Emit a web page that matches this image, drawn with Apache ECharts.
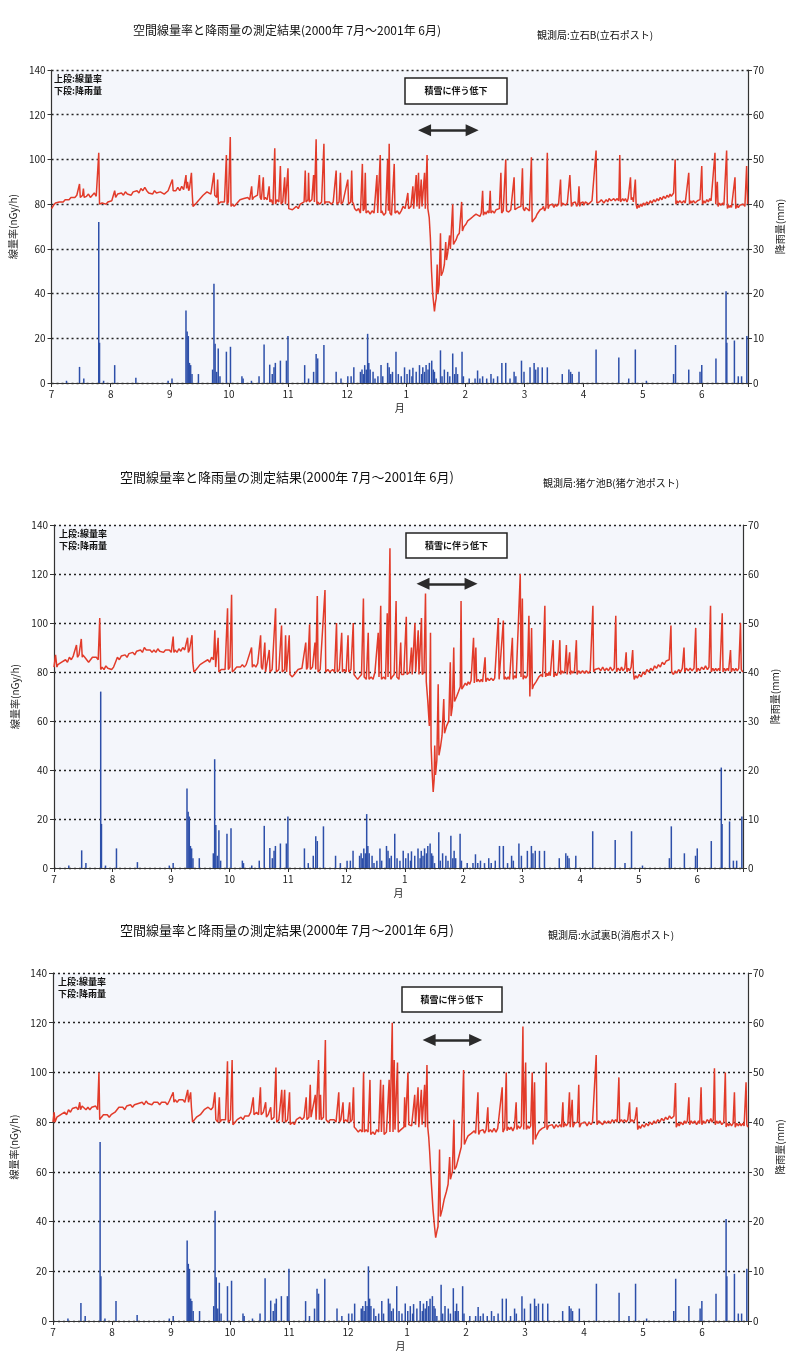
<!DOCTYPE html>
<html><head><meta charset="utf-8">
<script src="https://cdn.jsdelivr.net/npm/echarts@6/dist/echarts.min.js"></script>
<style>html,body{margin:0;padding:0;background:#fff}#c{width:800px;height:1369px}</style>
</head><body><div id="c"></div>
<script>
// x values are days from 1 July 2000 (one month = 30.43 units on the equally spaced month axis)
const MONTH = 30.43;
const X_MAX = 358.5;
const monthLabels = ['7','8','9','10','11','12','1','2','3','4','5','6'];
const chartTitle = '空間線量率と降雨量の測定結果(2000年 7月～2001年 6月)';
const stationNames = ['観測局:立石B(立石ポスト)', '観測局:猪ケ池B(猪ケ池ポスト)', '観測局:水試裏B(消庖ポスト)'];
const legendNote = '上段:線量率\n下段:降雨量';
const snowNote = '積雪に伴う低下';
const leftAxisName = '線量率(nGy/h)';
const rightAxisName = '降雨量(mm)';
const xAxisName = '月';
// snow-cover arrow: [startDay, endDay, level (nGy/h)] for each panel
const snowArrow = [[192, 216.5, 113], [192, 217, 116], [194, 218, 113]];

// rainfall (mm), [day, mm] — same gauge shown in all three panels
const rainfall = [
[7.7,0.5],[14.4,3.6],[16.6,1],[24.3,36],[24.7,9],[26.8,0.5],[32.5,4],[43.4,1.2],[60,0.5],[62,1],
[69.2,16.2],[69.8,11.5],[70.4,10.5],[71,4.5],[71.6,4],[72.3,2],[75.6,2],[82.9,3],[83.6,22.2],[84.2,8.8],
[85,2.5],[85.8,7.7],[86.7,1.5],[90,7],[92.1,8.1],[98,1.5],[98.6,1],[102.9,0.5],[106.8,1.5],[109.4,8.6],
[112.3,4.1],[113.6,2],[114.5,3.5],[115.2,4.5],[117.8,5],[120.9,5],[121.7,10.5],[130.3,4],[132.3,1],[134.9,2.5],
[136.2,6.5],[137,5.5],[140.2,8.5],[146.5,2.5],[149,1],[152.5,1.5],[154.2,1.5],[155.6,3.5],[159,2.5],[159.8,3],
[160.5,2],[161.2,4],[162,3],[162.7,11],[163.3,4.5],[164,3],[165.5,2.5],[166.5,1],[168,1.5],[169.6,4],
[170.5,1.5],[173,4.5],[173.8,3.5],[174.6,2],[175.5,2.5],[177.3,7],[178.5,2],[180,1.5],[181.7,3.5],[183,2],
[184.3,3],[185.5,1.5],[186,3.4],[187.7,2.5],[189.4,4],[190.5,2],[191.1,3.5],[192,2.5],[192.8,4],[193.8,3],
[194.5,4.5],[195.7,5],[196.5,3],[197.1,2.5],[198,1],[200.2,7.3],[201,1.5],[202.2,3],[203.9,2.5],[205,1.5],
[206.5,6.6],[207.5,2],[208.2,3.5],[209,2],[211.3,7],[212,1.5],[215,1],[218,1],[219.3,2.8],[220.5,1],
[221.9,1.5],[224,1],[226.2,2],[227.5,1],[229.6,1.5],[231.8,4.5],[233.8,4.5],[236,1],[238.1,2.5],[239,1.5],
[241.9,5],[243.2,2.5],[246.3,3.5],[248.4,4.5],[249.2,3],[250.4,3.5],[252.6,3.5],[255.2,3.5],[262.9,2],[266.3,3],
[267.2,2.5],[268,2],[271.5,2.5],[280.3,7.5],[292,5.7],[297.1,1],[300.5,7.5],[306.2,0.5],[320.2,2],[321.2,8.5],
[328,3],[333.8,2.5],[334.7,4],[342,5.5],[347.2,20.5],[347.6,9],[351.5,9.5],[353.5,1.5],[355.2,1.5],[357.9,10.5]
];

// air dose rate (nGy/h), [day, value]
const doseTateishi = [
[0,78],[1,79.5],[2,80.5],[3,80],[4,81],[5,81.5],[6,81],[7,82],[8,82.5],[9,82],[10,83],[11,83.5],[12,83],[13,84],[14,83.5],[14.4,89],[14.8,83],
[16,84],[16.4,87],[16.8,83],[18,83.5],[19,84.5],[20,83],[21,84],[22,85],[23,83.5],[24,84],[24.3,103],[24.7,80],[26,80.5],[27,81],[28,80],
[29,81],[30,80.5],[31,81.5],[32,82],[32.5,86],[33,83],[34,84.5],[35,84],[36,85],[37,84],[38,85.5],[39,84.5],[40,85],[41,84],[42,85.5],
[43,85],[44,86],[45,85],[46,87],[47,86],[48,87.5],[49,86],[50,85],[51,85.5],[52,84.5],[53,86],[54,85],[55,84.5],[56,85.5],[57,85],
[58,84.5],[59,85],[60,86],[61,85.5],[62.2,91],[62.6,86],[63,86.5],[64,86],[65,87.5],[66,86],[67,88],[68,86.5],[69.2,93],[69.5,87],
[70,90],[70.6,86],[71,87],[72,94],[72.4,85],[72.8,79],[74,80],[75,81],[76,82],[77,83],[78,84],[79,84.5],[80,85.5],[81,85],[82,84.5],
[83,85],[83.6,94],[84,84],[85,83],[85.5,91],[85.9,80],[87,81],[88,80.5],[89,81],[90,102],[90.4,80],[91,81],[92,110],[92.4,79],[93,80],
[94,79],[95,80],[96,81],[97,82],[98,81.5],[99,82.5],[100,82],[101,83],[102,82],[103,88],[103.4,82],[104,83],[105,82.5],[106,84],
[107,93],[107.4,83],[108,82],[109,92],[109.4,82],[110,83],[111,82],[112,88],[112.4,81],[113,82],[114,80],[114.9,105],[115.3,80],
[116,82],[117,81],[117.8,97],[118.2,80],[119,81],[120,92],[120.4,80],[121,80.5],[121.7,96],[122.1,78],[123,78.5],[124,77.5],[125,78],
[126,79],[127,78],[128,80],[129,80.5],[130,81],[130.6,95],[131,81],[132,82],[132.3,94],[132.7,81],[134,82],[134.9,93],[135.3,81],
[136.2,109],[136.6,80],[137,81],[138,80],[139,81],[140.2,107],[140.6,80],[141,81],[142,80.5],[143,81],[144,80],[145,81],[146.5,95],
[146.9,80],[148,81],[148.7,94],[149.1,80],[150,81],[151,80.5],[152.5,91],[152.9,80],[154,81],[154.5,95],[154.9,81],[155.5,80],[156,78],
[157,77],[158,78],[159,76],[160,98],[160.4,77],[161,78],[161.5,94],[161.9,76],[163,77],[164,75.5],[165,77],[166,76],[167.5,93],
[167.9,76],[169.2,102],[169.6,76],[170,77],[171,75],[172,76],[173,100],[173.4,77],[173.8,107],[174.2,76],[175,75],[176.4,98],[176.8,76],
[178,77],[179,75.5],[180,77],[181,79],[182,78],[183.4,85],[183.8,78],[185,79],[186,88],[186.4,78],[187.7,93],[188.1,79],[188.9,94],
[189.3,78],[190.3,91],[190.7,79],[192,94],[192.4,78],[193.3,102],[193.7,78],[194.4,74],[195,65],[195.6,50],[196.2,40],[197.1,32],
[197.6,36],[198,38],[198.5,53],[198.9,40],[199.5,44],[200.2,67],[200.6,48],[201.5,50],[202.2,53],[202.9,63],[203.3,55],[203.9,58],
[204.9,66],[205.3,60],[206.5,80],[206.9,62],[207.5,63],[208.2,64],[209,66],[209.9,67],[211.1,81],[211.5,68],[212.3,70],[213.3,71],
[214.2,72.5],[215,72],[215.7,73.5],[216.3,73],[217,74.5],[217.6,74],[218.5,75.5],[219.3,75],[220.5,74.5],[221.2,76],[221.9,86],[222.3,75],
[223,76.5],[223.6,75.5],[224.5,77],[225.2,76],[225.8,86],[226.2,76],[227,77],[227.9,76],[228.8,77.5],[229.6,77],[230.5,78],
[231.3,94],[231.7,76],[232.5,77],[233.8,100],[234.2,77],[235.3,76.5],[236.4,77.5],[237.3,77],[238.1,92],[238.5,77.5],[239.5,77],
[240.1,78.5],[240.7,78],[241.6,79],[242.4,96],[242.8,78],[243.5,77],[244,78.5],[245,78],[246,77],[247,101],[247.4,72],[248.2,73],
[249.2,74],[249.9,75.5],[250.5,76],[251.5,77.5],[252.6,78],[253.2,79],[253.8,77],[254.5,78.5],[255.2,103],[255.6,78],[256.3,79.5],
[257,79],[257.8,80],[258.6,78.5],[259.3,80],[260,79],[261,80],[262,91],[262.4,79],[263,80.5],[263.5,80],[264.6,79.5],[265.5,80.5],
[266.8,93],[267.2,86],[267.6,79],[268.3,80.5],[269,80],[269.6,81],[270.3,79],[271,80.5],[271.5,88],[271.9,79],[272.5,80.5],[273,80],
[273.6,81],[274,79.5],[274.8,81],[275.5,81],[276.4,80],[277.4,80.5],[278.2,81.5],[279,81],[280.3,104],[280.7,80.5],
[282,81],[283,82],[284.3,80.5],[285.5,82],[286.3,81],[287,82.5],[288,81.5],[289.4,82.5],[290.2,81.5],[291,82.5],[292,81.5],[292.5,102],
[292.9,81],[294,82.5],[294.7,81.5],[295.4,82.5],[296.2,81],[296.8,82.5],[298,92],[298.4,82],[299,83],[299.5,81],[300.5,91],[300.9,80],
[301.4,78],[302,79.5],[302.5,78.5],[303.2,80],[303.9,79],[304.7,80.5],[305.5,79.5],[306.4,81],[307.4,80],[308.2,81.5],[309,80.5],
[310,82],[310.8,81],[311.7,82.5],[312.5,81.5],[313.3,83],[314.2,82],[315,83.5],[316,82.5],[316.8,84],[317.6,83],[318.4,84.5],[319,83.5],
[320.2,85],[321,100],[321.4,80],[322,81.5],[322.5,80.5],[323.4,81.5],[324.4,80.5],[325.5,81.5],[326.2,80.5],[327,81],[328,94],
[328.4,80],[329,81.5],[329.5,80.5],[330.4,81.5],[331.3,80.5],[332.5,81.5],[333.2,81],[333.8,82],[334.7,97],[335.1,80],[335.8,81.5],[336.5,80.5],
[337.3,82],[338.1,81],[338.8,82.5],[339.5,81.5],[340.5,82],[341.5,103],[341.9,80],[342.7,90],[343.1,79],[343.8,80.5],[344.5,79.5],[345.5,80.5],
[346.1,79.5],[346.7,80],[347.5,104],[347.9,78],[348.5,79.5],[349,78.5],[349.6,79.5],[350,78.5],[351,79],[351.8,92],
[352.2,78],[352.8,79.5],[353.5,78.5],[354.3,79.5],[355.2,79],[356,80],[356.9,79],[357.8,97],[358.3,80]
];

const doseInokeike = [
[0,82],[0.8,87],[1.5,82],[2,83],[3,82.5],[4,84],[5,83.5],[6,85],[7,84],[8,86],[9,85],[10,86.5],[11,86],[11.7,91],[12.2,86],[13,87],
[14.2,93.5],[14.7,86],[15,87],[16,86],[17,85],[18,84],[19,85],[20,86],[21,85.5],[22,86],[23,85],[23.8,102],[24.3,81],[25,82],[26,81],
[27,82.5],[28,81.5],[29,82],[30,81],[31,82],[32,84],[33,86],[34,85],[35,86.5],[36,86],[37,87],[38,86],[39,87.5],[40,87],[41,88],
[42,87],[43,88.5],[44,88],[45,89],[46,88],[47,90],[48,89],[49,88.5],[50,89],[51,88],[52,89],[53,88],[54,89.5],[55,88.5],[56,89],
[57,88],[58,89],[59,88.5],[60,89],[61,88],[62,94.5],[62.4,88],[63,89],[64,88],[65,89.5],[66,88.5],[67,90],[68,89],[69.5,94],[69.9,88],
[70.5,89],[71.8,95],[72.2,84],[72.8,80],[74,81],[75,82],[76,83],[77,82.5],[78,84],[79,84.5],[80,85],[81,84],[82,86],[83,85],[83.7,97],
[84.1,82],[85.4,94],[85.8,80],[87,81],[88,80.5],[89,81],[90.3,106],[90.7,81],[91.5,82],[92.4,111.5],[92.8,80],[94,81],[95,82],[96,81.5],
[97,82],[98,83],[99,82],[100,83],[101,82.5],[102.8,90],[103.2,82],[104,83],[105,82],[106,83.5],[107.5,95],[107.9,82],[108.5,81],
[109.7,92],[110.1,80],[111,80.5],[112,89],[112.4,80],[113.5,81],[115.3,106],[115.7,80],[117,81],[118.4,99],[118.8,80],[120,81],
[120.5,95],[121,80],[122.4,95],[122.8,79],[124,78],[125,79],[126,80],[127,81],[128,80.5],[129,81.5],[130,82],[131,92],[131.4,81],
[132,82],[133,99.5],[133.4,81],[134.5,82],[135.8,92],[136.2,81],[137,111],[137.4,80],[138.5,81],[139.5,80.5],[141,113.5],[141.4,80],
[142.5,81],[143.5,80],[145,81],[146,80],[147,100],[147.4,80],[148.5,81],[149.7,96],[150.1,80],[151,81],[152,80],[153,95],[153.4,80],
[154.5,81],[155.7,100],[156.1,79],[157,78],[158,77],[159,78],[160,79],[161,110],[161.4,78],[162.5,77],[163.5,96],[163.9,77],[165,78],
[166,77],[167,80],[168.7,96],[169.1,78],[170,107],[170.4,77],[171.5,78],[172.5,77],[173.4,104],[173.8,78],[174.8,130.5],[175.2,77],
[176,78],[177,79],[178,109],[178.4,78],[179.5,77],[180.4,92],[180.8,79],[182,79],[183.3,102.5],[183.7,79],[185,80],[186,90],[186.4,79],
[187.8,100],[188.2,80],[189.5,97],[189.9,79],[191.2,102],[191.6,79],[192.5,80],[193.3,112],[193.7,76],[194.5,68],[195.3,58],[195.9,96],
[196.2,50],[196.7,40],[197.3,31],[197.8,36],[198.1,50],[198.5,38],[199.2,44],[199.9,75],[200.3,46],[201.2,50],[201.9,54],[202.8,69],
[203.2,55],[204.3,58],[205.4,60],[206.2,84],[206.6,62],[207.3,66],[208,90],[208.4,68],[209.5,70],[210.5,72],[211.4,74],[211.8,109],
[212.2,73],[213,74],[214,75.5],[214.8,74.5],[215.5,76],[216.3,75],[217,76.5],[218.3,94],[218.7,75.5],[219.5,90],[219.9,76],[220.7,77],
[221.5,76],[222.3,77],[223,76],[224.3,86],[224.7,76],[225.6,77.5],[226.5,76.5],[227.5,77.5],[228.5,76.5],[229.3,77.5],[230,77],
[231.2,102],[231.6,77],[232.5,76.5],[233.8,101],[234.2,77],[234.8,78],[235.5,77],[236.3,78],[237,77],[238.5,94],[238.9,77],[239.7,78.5],
[240.5,77.5],[241.5,78],[242.6,120],[243,78],[243.7,110],[244.1,77],[244.8,78.5],[245.5,77.5],[246.3,78.5],[247.1,103],[247.6,70],[248.5,98],
[248.9,73],[249.5,74.5],[250,74],[250.8,76],[251.5,76.5],[252.3,78],[253,77.5],[253.6,79],[254.2,78],[255.4,107],[255.8,78],[256.4,79.5],
[257,78.5],[257.6,80],[258.2,78.5],[259.7,93],[260.1,78],[260.8,79.5],[261.5,78.5],[262.3,80],[263.2,93],[263.6,79],[264.3,80.5],[265,79.5],
[265.8,80.5],[266.6,91],[267,79],[268.3,88],[268.7,79],[269.3,80.5],[270,79.5],[270.8,80.5],[271.8,93],[272.2,79],[273,80.5],[274,79.5],
[275,80.5],[276,79.5],[277,80.5],[278,79.5],[279,80.5],[280.4,107],[280.8,80],
[281.5,81],[282.5,80.5],[283.5,81.5],[284.5,80.5],[285.5,82],[286.5,80.5],[287.5,81.5],[288.5,80.5],[289.5,82],[290.5,80.5],[291.5,81.5],
[292.3,103],[292.7,80],[293.5,81.5],[294.5,80.5],[295.3,82],[296,80.5],[297,81.5],[297.7,88],[298.1,80],[298.8,81.5],[299.5,80.5],
[300.3,82],[301.1,89],[301.5,80],[301.9,77],[302.7,78.5],[303.5,77.5],[304.5,79],[305.5,78],[306.5,80],[307.5,79],[308.5,81],[309.5,80],
[310.5,81.5],[311.5,80.5],[312.5,82.5],[313.5,81.5],[314.5,83],[315.5,82],[316.5,84],[317.5,83],[318.5,84.5],[319.3,84],[320.1,85],
[321,99],[321.4,80],[322.3,79],[323.2,80.5],[324,79.5],[325,81],[326,80],[326.9,81.5],[327.8,90],[328.2,80],[329,81.5],[330,80.5],
[331,81.5],[332,80.5],[333,81.5],[333.9,98],[334.3,80],[335.2,81.5],[336,80.5],[337,82],[338,81],[339,82.5],[340,81],[340.8,82],
[341.6,107],[342,80],[342.8,81.5],[343.5,80.5],[344.3,81.5],[345,80.5],[345.8,81.5],[346.5,80.5],[347.7,104],[348.1,80],[348.8,81.5],
[349.5,80.5],[350.3,81.5],[351,80.5],[352,89],[352.4,80],[353.2,81.5],[354,80.5],[354.8,81.5],[355.5,80.5],[356.3,81.5],[357.2,100],
[357.6,81],[358.4,80]
];

const doseMizushi = [
[0,80],[0.6,84],[1,80],[2,82],[3,81.5],[4,83],[5,82.5],[6,84],[7,83],[8,85],[9,84],[10,85.5],[11,85],[12,86],[13,85],[13.8,88],
[14.2,85],[15,86.5],[16,86],[17,85],[18,86],[19,85],[20,86],[21,85.5],[22,86.5],[23,85],[23.7,100],[24.1,81],[25,82],[26,83],
[27,82.5],[28,83],[29,82],[30,83],[31,82.5],[32,84],[33,85],[34,86],[35,85.5],[36,86],[37,85],[38,86.5],[39,86],[40,87],[41,86],
[42,87],[43,86.5],[44,87.5],[45,87],[46,88],[47,87],[48,88.5],[49,87.5],[50,88],[51,87],[52,88],[53,87.5],[54,88],[55,87],[56,88],
[57,87.5],[58,88],[59,87],[60,88.5],[61,88],[62,92],[62.4,88],[63,89],[64,88],[65,89],[66,88.5],[67,89],[68,88],[69.5,93],[69.9,88],
[71,92],[71.4,86],[72,80],[73,81],[74,82],[75,81.5],[76,83],[77,84],[78,85],[79,85.5],[80,86],[80.8,86.5],[81.5,85],[82.5,86],
[83.5,92],[84,81],[85,80],[85.8,90],[86.2,80],[87,81],[88,80.5],[89,81],[90,104.5],[90.4,80],[91.5,81],[92.4,105],[92.8,79],[94,80],
[95,81],[96,80.5],[97,82],[98,81],[99,82.5],[100,83],[101,82.5],[102,84],[103.3,90],[103.7,83],[105,84],[106,83],[107,94],[107.4,83],
[108.5,84],[109.7,88],[110.1,82],[111,83],[112.3,86],[112.7,81],[114,82],[115,102],[115.4,80],[116.5,81],[118,93],[118.4,80],
[119.5,93],[119.9,80],[121,81],[122,92],[122.4,79],[123.5,80],[124.5,79],[125.5,81],[126.5,80.5],[127.5,82],[128.5,81],[129.5,82],
[130.6,90],[131,81],[132,82],[132.7,95],[133.1,82],[134,81.5],[135.3,91],[135.7,81],[137,105],[137.4,81],[138,91],[138.4,81],
[139.5,82],[140.5,113],[140.9,81],[142,80],[143,81],[144,80.5],[145,81],[146,80],[147.4,92],[147.8,80],[148.5,81],[149.6,88],
[150,80],[151,81],[152,80],[153,88],[153.4,80],[154.3,81],[155,94],[155.4,78],[156.5,77],[157.5,76],[158.5,77],[159.5,76],[160.2,100],
[160.6,76],[161.5,77],[162.5,76],[163.5,97],[163.9,75],[165,76],[166,75],[167,77],[168,76],[169,97],[169.4,76],[170.4,95],[170.8,75],
[172,76],[173.4,97],[173.8,76],[175,120],[175.4,76],[176,105],[176.4,77],[177.7,104],[178.1,76],[179.5,77],[181,78],[181.4,90],
[181.8,78],[183.1,100],[183.5,79],[185,78.5],[186.6,91],[187,79],[188.3,94],[188.7,78],[190,93],[190.4,79],[191.7,95],[192.1,78],
[192.9,103],[193.3,78],[193.8,74],[194.3,68],[195.2,55],[196,45],[196.8,38],[197.4,33.5],[198,36],[198.6,38],[199.4,69],[199.8,42],
[200.8,45],[201.8,49],[202.9,52],[203.8,55],[204.6,66],[205,57],[206,60],[206.8,81],[207.2,61],[208,62],[209.3,66],[210.6,70],
[211.8,101],[212.2,71],[213.2,73],[214.1,74.5],[215,74],[215.8,75.5],[216.6,75],[217.3,76.5],[218,75.5],[219.2,92],[219.6,75],[220.3,76.5],
[221,76],[221.8,77],[222.6,75.5],[223.4,77],[224.3,86],[224.7,76],[225.6,77],[226.5,76],[227.5,77.5],[228.5,76],[229.4,77.5],[230.3,77],
[231.7,94],[232.1,76],[233,77.5],[233.8,100],[234.2,76.5],[234.9,78],[235.5,77],[236.3,78],[237.2,76.5],[238,78],[238.9,88],[239.3,77],
[240,78.5],[240.8,77.5],[241.6,78.5],[242.4,118.5],[242.8,77],[243.8,104],[244.2,77],[244.9,78.5],[245.6,77.5],[246.4,78.5],[247.2,100],
[247.6,71],[248.4,96],[248.8,73],[249.4,74.5],[250,75],[250.8,76.5],[251.5,76],[252.3,77.5],[253,77],[253.7,78],[254.4,104],[254.8,77],
[255.6,78.5],[256.5,78],[257.5,79],[258.5,77.5],[259.5,79],[260.5,78],[261.5,79],[262.3,78],[263,88],[263.4,78],[264,79.5],[264.8,78.5],
[265.6,79.5],[266.4,92],[266.8,78],[267.8,89],[268.2,78],[269,79.5],[269.8,79],[270.5,80],[271.2,95],[271.6,78],[272.5,79.5],[273.5,79],
[274.5,80],[275.5,78.5],[276.5,80],[277.5,79],[278.3,80],[279,79.5],[280.2,107],[280.6,79],[281.5,80.5],
[282.5,80],[283.5,79],[284.5,80.5],[285.5,79.5],[286.5,80.5],[287.5,79.5],[288.5,81],[289.3,80],[290.2,81],[291,80],[291.9,98],[292.3,80],
[293.2,81],[294,80],[294.8,81],[295.7,80],[296.5,81],[297.4,88],[297.8,80],[298.6,81],[299.5,80],[300.3,81.5],[301.1,86],[301.6,77],
[302.3,78.5],[303,77.5],[304,79],[305,78],[306,79.5],[307,78.5],[308,80],[309,79],[310,80.5],[311,79.5],[312,81],[313,80],[314,81.5],
[315,80.5],[316,82],[317,81],[318,82.5],[319,81.5],[320.3,82.5],[321.1,95.7],[321.5,78],[322.3,79.5],[323,78.5],[323.8,80],[325,79],
[325.8,80.5],[326.5,79.5],[327.2,80.5],[328,90],[328.4,79],[329.2,80.5],[330,79.5],[331,80.5],[332,79],[333,80.5],[333.6,79.5],[334.3,94],
[334.7,79],[335.5,80.5],[336.5,79.5],[337.5,81],[338.5,80],[339.3,81.5],[340,80],[340.6,81],[341.2,101.7],[341.6,79],[342.3,80.5],
[343,79.5],[344,80.5],[345,79],[346,80],[346.8,100],[347.2,78],[347.8,79.5],[348.5,78.5],[349.2,79.5],[350,78.5],[350.8,79.5],
[351.5,92],[351.9,78],[352.7,79.5],[353.5,78.5],[354.3,79.5],[355,78.5],[355.8,79.5],[356.5,78.5],[357.5,96],[357.9,79],[358.4,78]
];

const doseSeries = [doseTateishi, doseInokeike, doseMizushi];

const panels = [
  {top: 70, height: 313, left: 49, width: 699, titleX: 287, titleY: 30, titleSize: 12, stationX: 537, stationY: 35, box: [405, 78, 102, 26]},
  {top: 525, height: 343, left: 54, width: 689, titleX: 287, titleY: 477, titleSize: 13, stationX: 543, stationY: 483, box: [406, 533, 101, 25]},
  {top: 973, height: 348, left: 53, width: 695, titleX: 287, titleY: 930, titleSize: 13, stationX: 548, stationY: 935, box: [402, 987, 100, 25]}
];

const FONT = '"Noto Sans CJK JP", "Liberation Sans", sans-serif';
const RED = '#e23b2a';
const BLUE = '#2d4fa9';
const AXIS = '#333';

const grid = [], xAxis = [], yAxis = [], series = [], graphic = [];
panels.forEach((p, i) => {
  grid.push({left: p.left, top: p.top, width: p.width, height: p.height,
    show: true, backgroundColor: '#f4f6fb', borderWidth: 0, containLabel: false});
  xAxis.push({type: 'value', gridIndex: i, min: 0, max: X_MAX, interval: MONTH,
    name: xAxisName, nameLocation: 'middle', nameGap: 20,
    nameTextStyle: {fontFamily: FONT, fontSize: 10, color: '#222'},
    axisLine: {show: true, onZero: false, lineStyle: {color: AXIS, width: 1.2}},
    axisTick: {show: true, length: 4, lineStyle: {color: AXIS}},
    axisLabel: {fontFamily: FONT, fontSize: 10, color: '#222', margin: 6,
      formatter: v => { const k = Math.round(v / MONTH); return (Math.abs(v - k * MONTH) < 0.5 && k < 12) ? monthLabels[k] : ''; }},
    splitLine: {show: false}});
  yAxis.push({type: 'value', gridIndex: i, min: 0, max: 140, interval: 20, position: 'left',
    name: leftAxisName, nameLocation: 'middle', nameGap: 25,
    nameTextStyle: {fontFamily: FONT, fontSize: 10, color: '#222'},
    axisLine: {show: true, lineStyle: {color: AXIS, width: 1.2}},
    axisTick: {show: true, length: 4, lineStyle: {color: AXIS}},
    axisLabel: {fontFamily: FONT, fontSize: 10, color: '#222', margin: 6},
    splitLine: {show: true, lineStyle: {color: '#222', width: 1.4, type: [2, 3]}}});
  yAxis.push({type: 'value', gridIndex: i, min: 0, max: 70, interval: 10, position: 'right',
    name: rightAxisName, nameLocation: 'middle', nameGap: 23,
    nameTextStyle: {fontFamily: FONT, fontSize: 10, color: '#222'},
    axisLine: {show: true, lineStyle: {color: AXIS, width: 1.2}},
    axisTick: {show: true, length: 4, lineStyle: {color: AXIS}},
    axisLabel: {fontFamily: FONT, fontSize: 10, color: '#222', margin: 5},
    splitLine: {show: false}});
  series.push({type: 'bar', xAxisIndex: i, yAxisIndex: 2 * i + 1, data: rainfall,
    barWidth: 1.5, itemStyle: {color: BLUE}, z: 2, animation: false});
  const a = snowArrow[i];
  series.push({type: 'line', xAxisIndex: i, yAxisIndex: 2 * i, data: doseSeries[i],
    showSymbol: false, symbol: 'none', lineStyle: {color: RED, width: 1.5}, z: 3, animation: false,
    markLine: {silent: true, animation: false, symbol: ['triangle', 'triangle'], symbolSize: [12, 13],
      label: {show: false}, lineStyle: {color: '#2b2b2b', width: 2.5, type: 'solid'},
      data: [[{coord: [a[0], a[2]]}, {coord: [a[1], a[2]]}]]}});
  graphic.push({type: 'text', x: p.titleX, y: p.titleY,
    style: {text: chartTitle, font: p.titleSize + 'px ' + FONT, fill: '#111', textAlign: 'center', textVerticalAlign: 'middle'}});
  graphic.push({type: 'text', x: p.stationX, y: p.stationY, style: {text: stationNames[i], font: '10px ' + FONT, fill: '#111', textVerticalAlign: 'middle'}});
  graphic.push({type: 'text', x: p.left + 5, y: p.top + 3, style: {text: legendNote, font: 'bold 9px ' + FONT, fill: '#111', lineHeight: 12}});
  graphic.push({type: 'rect', shape: {x: p.box[0], y: p.box[1], width: p.box[2], height: p.box[3]},
    style: {fill: '#fff', stroke: '#222', lineWidth: 1.5}, z: 10});
  graphic.push({type: 'text', x: p.box[0] + p.box[2] / 2, y: p.box[1] + p.box[3] / 2, z: 11,
    style: {text: snowNote, font: 'bold 9px ' + FONT, fill: '#111', textAlign: 'center', textVerticalAlign: 'middle'}});
});

const chart = echarts.init(document.getElementById('c'), null, {renderer: 'canvas'});
chart.setOption({backgroundColor: '#fff', animation: false, grid, xAxis, yAxis, series, graphic});
</script></body></html>
